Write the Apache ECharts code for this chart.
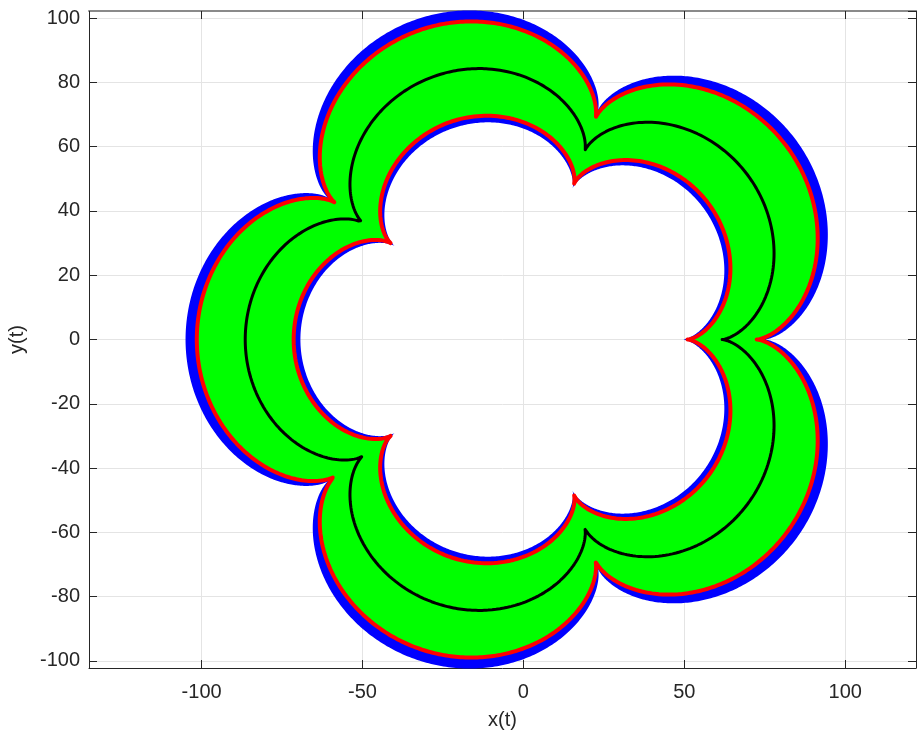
<!DOCTYPE html>
<html>
<head>
<meta charset="utf-8">
<script src="https://cdn.jsdelivr.net/npm/echarts@6/dist/echarts.min.js"></script>
<style>
html,body{margin:0;padding:0;background:#fff;}
#chart{width:917px;height:731px;}
</style>
</head>
<body>
<div id="chart"></div>
<script>
// ---- data ----
// Five-cusped epicycloids x = 6r cos t - r cos 6t, y = 6r sin t - r sin 6t
const cuspCount = 5;
const blueBandRadii = [15.0, 9.9];     // outer, inner rolling radius of blue band
const greenBandRadii = [14.5, 10.2];   // outer, inner rolling radius of green band
const redCurveRadii = [14.5, 10.2];    // red boundary curves
const blackCurveRadius = [12.35];      // black middle curve
const xTickValues = [-100, -50, 0, 50, 100];
const yTickValues = [-100, -80, -60, -40, -20, 0, 20, 40, 60, 80, 100];
const xLimits = [-135, 122];
const yLimits = [-102.2, 102.2];
const samples = 1440;

function epicycloid(r) {
  const k = cuspCount + 1;
  const pts = [];
  for (let i = 0; i <= samples; i++) {
    const t = 2 * Math.PI * i / samples;
    pts.push([k * r * Math.cos(t) - r * Math.cos(k * t),
              k * r * Math.sin(t) - r * Math.sin(k * t)]);
  }
  return pts;
}

function ringSeries(radii, color, z) {
  const outer = epicycloid(radii[0]);
  const inner = epicycloid(radii[1]).reverse();
  return {
    type: 'custom',
    z: z,
    silent: true,
    data: [0],
    renderItem: function (params, api) {
      const pts = outer.concat(inner).map(p => api.coord(p));
      return { type: 'polygon', shape: { points: pts }, style: { fill: color, stroke: null } };
    }
  };
}

function lineSeries(r, color, width, z) {
  return {
    type: 'line', z: z, data: epicycloid(r), symbol: 'none', showSymbol: false,
    clip: false, silent: true,
    lineStyle: { color: color, width: width, join: 'round', cap: 'round' }
  };
}

const axisColor = '#262626';
const gridColor = '#e4e4e4';
const fontFamily = '"Liberation Sans", Arial, Helvetica, sans-serif';

const chart = echarts.init(document.getElementById('chart'), null, { renderer: 'canvas' });
chart.setOption({
  animation: false,
  backgroundColor: '#ffffff',
  grid: { left: 89, right: 1, top: 11, bottom: 63, containLabel: false, outerBoundsMode: 'none' },
  xAxis: [{
    type: 'value', min: xLimits[0], max: xLimits[1], splitNumber: 5,
    name: 'x(t)', nameLocation: 'middle', nameGap: 42,
    nameTextStyle: { color: axisColor, fontSize: 20, fontFamily: fontFamily },
    axisLine: { show: true, onZero: false, lineStyle: { color: axisColor, width: 1 } },
    axisTick: { show: true, inside: true, length: 8, lineStyle: { color: axisColor } },
    axisLabel: { color: axisColor, fontSize: 20, fontFamily: fontFamily, margin: 14,
      showMinLabel: false, showMaxLabel: false,
      formatter: v => (xTickValues.indexOf(v) >= 0 ? String(v) : '') },
    splitLine: { show: true, lineStyle: { color: gridColor, width: 1 } }
  }, {
    type: 'value', position: 'top', min: xLimits[0], max: xLimits[1], splitNumber: 5,
    axisLine: { show: true, onZero: false, lineStyle: { color: '#8a8a8a', width: 2 } },
    axisTick: { show: true, inside: true, length: 8, lineStyle: { color: axisColor } },
    axisLabel: { show: false }, splitLine: { show: false }
  }],
  yAxis: [{
    type: 'value', min: yLimits[0], max: yLimits[1], splitNumber: 10,
    name: 'y(t)', nameLocation: 'middle', nameGap: 62, nameRotate: 90,
    nameTextStyle: { color: axisColor, fontSize: 20, fontFamily: fontFamily },
    axisLine: { show: true, onZero: false, lineStyle: { color: axisColor, width: 1 } },
    axisTick: { show: true, inside: true, length: 8, lineStyle: { color: axisColor } },
    axisLabel: { color: axisColor, fontSize: 20, fontFamily: fontFamily, margin: 9,
      showMinLabel: false, showMaxLabel: false,
      formatter: v => (yTickValues.indexOf(v) >= 0 ? String(v) : '') },
    splitLine: { show: true, lineStyle: { color: gridColor, width: 1 } }
  }, {
    type: 'value', position: 'right', min: yLimits[0], max: yLimits[1], splitNumber: 10,
    axisLine: { show: true, onZero: false, lineStyle: { color: axisColor, width: 1 } },
    axisTick: { show: true, inside: true, length: 8, lineStyle: { color: axisColor } },
    axisLabel: { show: false }, splitLine: { show: false }
  }],
  series: [
    ringSeries(blueBandRadii, '#0000ff', 2),
    ringSeries(greenBandRadii, '#00ff00', 3),
    lineSeries(redCurveRadii[0], '#ff0000', 4, 4),
    lineSeries(redCurveRadii[1], '#ff0000', 4, 4),
    lineSeries(blackCurveRadius[0], '#000000', 3, 5)
  ]
});
</script>
</body>
</html>
